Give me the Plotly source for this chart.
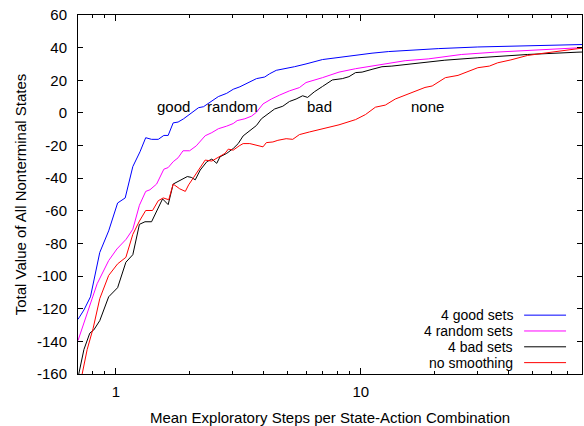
import math
import plotly.graph_objects as go

# ---- data ----
good_x = [0.70, 0.740, 0.787, 0.859, 0.934, 1.016, 1.091, 1.172, 1.254, 1.323, 1.398, 1.489, 1.569, 1.634,
          1.713, 1.794, 1.890, 2.012, 2.174, 2.278, 2.424, 2.619, 2.833, 3.013, 3.207, 3.414, 3.748, 4.050,
          4.243, 4.516, 4.956, 5.355, 5.972, 6.972, 8.145, 9.517, 11.11, 12.99, 15.17, 18.85, 20.70, 30.04,
          47.88, 76.31, 80.0]
good_y = [-126.5, -120.8, -112.7, -85.5, -72.3, -55.2, -52.1, -32.9, -23.8, -15.2, -16.2, -16.2, -13.8, -13.8,
          -6.1, -5.6, -3.6, -0.6, 3.2, 3.8, 6.5, 10.0, 12.0, 14.5, 16.0, 18.0, 21.0, 22.0,
          24.0, 26.1, 27.1, 28.3, 30.0, 32.7, 34.0, 35.5, 36.6, 37.6, 38.3, 39.2, 39.4, 40.4,
          41.2, 41.8, 41.9]

random_x = [0.70, 0.763, 0.838, 0.934, 1.009, 1.101, 1.172, 1.247, 1.323, 1.377, 1.466, 1.569, 1.634, 1.713,
            1.794, 1.879, 1.999, 2.128, 2.314, 2.463, 2.619, 2.833, 3.013, 3.127, 3.360, 3.577, 3.748, 3.986,
            4.310, 4.656, 5.111, 5.610, 5.972, 6.972, 8.145, 9.517, 11.11, 12.99, 15.17, 18.85, 25.72, 35.10,
            47.88, 76.31, 80.0]
random_y = [-139.5, -122.8, -104.7, -90.5, -83.4, -77.4, -71.3, -56.6, -48.1, -47.1, -43.6, -34.5, -33.5, -29.9,
            -27.5, -23.2, -23.2, -20.2, -14.0, -12.1, -9.7, -8.1, -6.5, -4.7, -3.6, -2.0, 0.4, 5.5,
            8.5, 10.9, 13.5, 15.5, 18.6, 21.6, 25.0, 27.1, 28.7, 30.5, 32.0, 33.1, 35.8, 37.2,
            38.4, 39.8, 40.0]

bad_x = [0.705, 0.740, 0.782, 0.812, 0.859, 0.934, 1.016, 1.098, 1.172, 1.247, 1.314, 1.398, 1.550, 1.634,
         1.713, 1.821, 1.956, 2.031, 2.108, 2.209, 2.351, 2.463, 2.580, 2.661, 2.833, 3.013, 3.157, 3.307,
         3.521, 3.748, 3.927, 4.114, 4.445, 4.802, 5.111, 5.440, 5.786, 6.062, 6.453, 6.972, 7.652, 8.401,
         8.943, 9.517, 10.12, 11.11, 12.20, 13.39, 15.17, 17.71, 22.03, 30.04, 47.88, 76.31, 80.0]
bad_y = [-160.0, -145.0, -135.0, -133.0, -127.3, -112.7, -107.1, -91.5, -86.9, -68.3, -66.7, -66.7, -52.7, -56.2,
         -43.6, -41.6, -39.0, -39.5, -41.0, -35.0, -29.9, -28.3, -30.9, -26.9, -24.8, -21.8, -18.8, -14.1,
         -10.7, -7.7, -3.6, -1.2, 2.4, 4.1, 7.0, 8.5, 10.5, 9.5, 12.9, 16.2, 20.2, 21.0,
         22.2, 24.7, 25.0, 26.7, 28.3, 28.7, 29.7, 30.7, 32.3, 33.8, 35.8, 37.2, 37.3]

none_x = [0.728, 0.763, 0.807, 0.859, 0.934, 1.016, 1.098, 1.172, 1.247, 1.323, 1.411, 1.489, 1.560, 1.643,
          1.713, 1.821, 1.920, 1.981, 2.075, 2.209, 2.314, 2.463, 2.619, 2.788, 2.876, 3.013, 3.186, 3.307,
          3.521, 3.748, 3.986, 4.114, 4.375, 4.584, 4.956, 5.272, 5.610, 6.159, 6.972, 8.145, 9.517, 10.45,
          11.47, 12.59, 13.82, 15.17, 16.66, 18.28, 19.56, 22.14, 24.94, 27.37, 30.04, 33.50, 36.20, 40.99,
          47.88, 55.96, 65.31, 76.31, 80.0]
none_y = [-160.0, -145.0, -132.0, -113.8, -99.6, -92.5, -88.5, -74.4, -66.3, -59.8, -59.8, -53.8, -52.1, -53.2,
          -43.6, -46.5, -48.1, -44.1, -39.6, -33.9, -28.9, -29.5, -26.9, -24.8, -22.2, -22.8, -20.2, -18.8,
          -18.8, -19.8, -20.8, -18.2, -17.8, -16.8, -15.8, -16.2, -13.3, -11.7, -9.7, -7.3, -4.1, -1.0,
          3.5, 4.8, 8.5, 10.9, 13.0, 15.6, 16.5, 21.6, 23.0, 25.3, 27.7, 28.7, 30.7, 32.5,
          35.2, 36.6, 38.0, 39.5, 39.7]

series_names = ["4 good sets", "4 random sets", "4 bad sets", "no smoothing"]
series_colors = ["#0000ff", "#ff00ff", "#000000", "#ff0000"]

curve_labels = ["good", "random", "bad", "none"]
curve_label_x = [1.72, 3.0, 6.8, 18.8]
curve_label_y = [4, 4, 4, 4]

x_major = [1, 10]
x_minor = [0.8, 0.9, 2, 3, 4, 5, 6, 7, 8, 9, 20, 30, 40, 50, 60, 70]
y_ticks = [-160, -140, -120, -100, -80, -60, -40, -20, 0, 20, 40, 60]

FONT = "Liberation Sans, Arial, sans-serif"

fig = go.Figure()
for xs, ys, nm, col in zip([good_x, random_x, bad_x, none_x], [good_y, random_y, bad_y, none_y],
                           series_names, series_colors):
    fig.add_trace(go.Scatter(x=xs, y=ys, mode="lines", name=nm,
                             line=dict(color=col, width=1), showlegend=False))

fig.update_layout(
    width=584, height=426,
    margin=dict(l=78, r=1, t=15, b=48),
    paper_bgcolor="white", plot_bgcolor="white",
    font=dict(family=FONT, size=15, color="black"),
    xaxis=dict(type="log", range=[math.log10(0.7), math.log10(80)],
               tickmode="array", tickvals=x_major, ticktext=[str(v) for v in x_major],
               ticks="inside", ticklen=6, tickcolor="black", tickwidth=1,
               minor=dict(tickmode="array", tickvals=x_minor, ticks="inside", ticklen=3,
                          tickcolor="black", tickwidth=1, showgrid=False),
               showline=True, linecolor="black", linewidth=1, mirror="ticks",
               showgrid=False, zeroline=False, ticklabelstandoff=4,
               title=dict(text="Mean Exploratory Steps per State-Action Combination",
                          font=dict(size=15), standoff=14)),
    yaxis=dict(range=[-160, 60], tickmode="array", tickvals=y_ticks,
               ticktext=[str(v) for v in y_ticks],
               ticks="inside", ticklen=5, tickcolor="black", tickwidth=1,
               showline=True, linecolor="black", linewidth=1, mirror="ticks",
               showgrid=False, zeroline=False, ticklabelstandoff=7,
               title=dict(text="Total Value of All Nonterminal States", font=dict(size=15), standoff=6)),
)

for t, x, y in zip(curve_labels, curve_label_x, curve_label_y):
    fig.add_annotation(x=math.log10(x), y=y, text=t, showarrow=False,
                       xanchor="center", yanchor="middle", font=dict(size=15, color="black"))

# gnuplot-style legend (text on the left, line sample on the right)
leg_y_px = [318.5, 334.5, 350.5, 366.5]
for nm, col, py in zip(series_names, series_colors, leg_y_px):
    yp = (378 - py) / 363
    fig.add_annotation(xref="paper", yref="paper", x=(515 - 78) / 505, y=yp, text=nm,
                       showarrow=False, xanchor="right", yanchor="middle", borderpad=0,
                       font=dict(size=14, color="black"))
    fig.add_shape(type="line", xref="paper", yref="paper", x0=(525 - 78) / 505, x1=(567 - 78) / 505,
                  y0=yp, y1=yp, line=dict(color=col, width=1))

fig.write_html("out.html")
